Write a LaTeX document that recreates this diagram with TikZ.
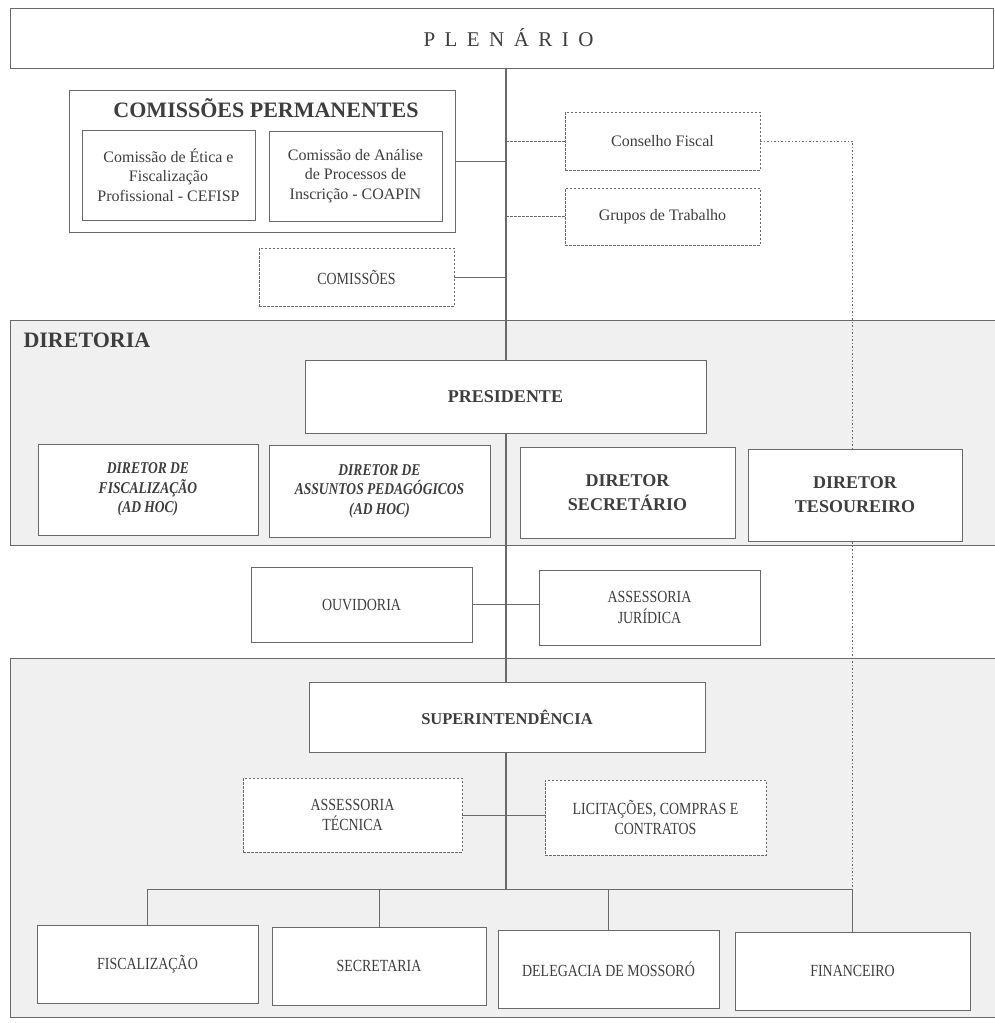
\documentclass[tikz,border=0pt]{standalone}
\usepackage{fontspec}
\setmainfont{Liberation Serif}
\newfontfamily\condfont[FakeStretch=0.82]{Liberation Serif}
\newfontfamily\spacedfont[LetterSpace=45]{Liberation Serif}
\usetikzlibrary{backgrounds}
\definecolor{ln}{RGB}{105,105,105}
\definecolor{tx}{RGB}{62,62,62}
\definecolor{pan}{RGB}{240,240,240}

\begin{document}
\begin{tikzpicture}[x=1pt,y=-1pt,
    box/.style={draw=ln,line width=1pt,fill=white,text=tx,align=center,inner sep=2pt},
    dbox/.style={box,line width=0.8pt,dash pattern=on 2.5pt off 1.5pt},
    wire/.style={draw=ln,line width=1pt},
    dwire/.style={draw=ln,line width=0.8pt,dash pattern=on 2.5pt off 1.5pt},
    dotwire/.style={draw=ln,line width=0.8pt,dash pattern=on 1.5pt off 2pt},
    small/.style={font=\fontsize{16}{19.5}\selectfont},
    caps/.style={font=\condfont\fontsize{17}{20.5}\selectfont},
    capsb/.style={font=\bfseries\fontsize{18}{24}\selectfont},
    adhoc/.style={font=\condfont\bfseries\itshape\fontsize{16.5}{19.5}\selectfont},
    title/.style={text=tx,font=\bfseries\fontsize{22}{22}\selectfont}]
  \useasboundingbox (0,0) rectangle (995,1023);
  \coordinate (top) at (506,68);
  \coordinate (bus) at (506,889);

  \node[box,minimum width=983,minimum height=60] (plen) at (501.5,38) {\hspace*{14pt}\spacedfont\fontsize{21}{21}\selectfont PLENÁRIO};

  \node[box,minimum width=386,minimum height=142] (cperm) at (262,161) {};
  \node[title] (cpermlbl) at (266,108) {COMISSÕES PERMANENTES};
  \node[box,small,minimum width=173,minimum height=90] (cefisp) at (168.5,175) {Comissão de Ética e\\Fiscalização\\Profissional - CEFISP};
  \node[box,small,minimum width=173,minimum height=90] (coapin) at (355.5,176) {Comissão de Análise\\de Processos de\\Inscrição - COAPIN};
  \node[dbox,caps,minimum width=195,minimum height=58] (comis) at (356.5,277) {COMISSÕES};
  \node[dbox,small,minimum width=195,minimum height=58] (cons) at (662.5,141) {Conselho Fiscal};
  \node[dbox,small,minimum width=195,minimum height=57] (grp) at (662.5,216.5) {Grupos de Trabalho};

  \node[title,anchor=west] (dirlbl) at (20,340) {DIRETORIA};
  \node[box,minimum width=401,minimum height=73,font=\bfseries\fontsize{18}{18}\selectfont] (pres) at (505.5,396.5) {PRESIDENTE};
  \node[box,adhoc,minimum width=220,minimum height=91] (dfis) at (148,489.5) {DIRETOR DE\\FISCALIZAÇÃO\\(AD HOC)};
  \node[box,adhoc,minimum width=221,minimum height=92] (dped) at (379.5,491) {DIRETOR DE\\ASSUNTOS PEDAGÓGICOS\\(AD HOC)};
  \node[box,capsb,minimum width=215,minimum height=91] (dsec) at (627.5,492.5) {DIRETOR\\SECRETÁRIO};
  \node[box,capsb,minimum width=214,minimum height=92] (dtes) at (855,495) {DIRETOR\\TESOUREIRO};

  \node[box,caps,minimum width=221,minimum height=75] (ouv) at (361.5,604.5) {OUVIDORIA};
  \node[box,caps,minimum width=221,minimum height=75] (jur) at (649.5,607.5) {ASSESSORIA\\JURÍDICA};

  \node[box,minimum width=396,minimum height=70,font=\bfseries\fontsize{16.5}{16.5}\selectfont] (sup) at (507,717) {SUPERINTENDÊNCIA};
  \node[dbox,caps,minimum width=219,minimum height=74] (asst) at (352.5,815) {ASSESSORIA\\TÉCNICA};
  \node[dbox,caps,minimum width=221,minimum height=75] (lic) at (655.5,817.5) {LICITAÇÕES, COMPRAS E\\CONTRATOS};

  \node[box,caps,minimum width=221,minimum height=78] (fisc) at (147.5,964) {FISCALIZAÇÃO};
  \node[box,caps,minimum width=214,minimum height=78] (secr) at (379,966) {SECRETARIA};
  \node[box,caps,minimum width=221,minimum height=78] (deleg) at (608.5,969) {DELEGACIA DE MOSSORÓ};
  \node[box,caps,minimum width=235,minimum height=78] (fin) at (852.5,971) {FINANCEIRO};

  \begin{pgfonlayer}{background}
    \fill[white] (0,0) rectangle (995,1023);
    \fill[pan] (10,320) rectangle (995,545);
    \draw[wire] (995,320) -- (10,320) -- (10,545) -- (995,545);
    \fill[pan] (10,658) rectangle (995,1017);
    \draw[wire] (995,658) -- (10,658) -- (10,1017) -- (995,1017);
    \draw[wire,line width=1.2pt] (top) -- (bus);
    \draw[wire] (cperm.east) -- (cperm.east -| top);
    \draw[wire] (comis.east) -- (comis.east -| top);
    \draw[dwire] (cons.west) -- (cons.west -| top);
    \draw[dwire] (grp.west) -- (grp.west -| top);
    \draw[dotwire] (cons.east) -- (cons.east -| fin.north) -- (fin.north |- bus);
    \draw[wire] (ouv.east) -- (ouv.east -| jur.west);
    \draw[wire] (asst.east) -- (asst.east -| lic.west);
    \draw[wire] (fisc.north) -- (fisc.north |- bus) -- (fin.north |- bus) -- (fin.north);
    \draw[wire] (secr.north) -- (secr.north |- bus);
    \draw[wire] (deleg.north) -- (deleg.north |- bus);
  \end{pgfonlayer}
\end{tikzpicture}
\end{document}
